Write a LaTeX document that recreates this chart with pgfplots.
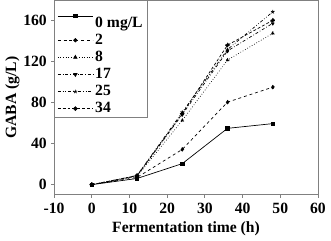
\documentclass[border=0pt]{standalone}
\usepackage{fontspec}
\setmainfont{Liberation Serif}
\usepackage{pgfplots}
\pgfplotsset{compat=1.18}
\begin{document}
\fontsize{16}{18}\selectfont\bfseries
\begin{tikzpicture}
\begin{axis}[
  scale only axis, width=270pt, height=199pt,
  xmin=-10, xmax=60, ymin=-10, ymax=180,
  xtick={-10,0,...,60}, ytick={0,40,...,160},
  tick align=outside, tick pos=left,
  major tick length=3pt,
  axis line style={gray, line width=0.8pt},
  every tick/.style={gray, line width=0.8pt},
  /pgf/number format/assume math mode=true,
  tick label style={font=\fontsize{16}{18}\selectfont\bfseries},
  yticklabel style={xshift=1pt},
  label style={font=\fontsize{16}{18}\selectfont\bfseries},
  xlabel={Fermentation time (h)}, ylabel={GABA (g/L)},
  xlabel style={yshift=3pt}, ylabel style={yshift=-7pt},
  legend style={at={(0,1)}, anchor=north west, draw=gray, line width=0.8pt, font=\fontsize{16}{18}\selectfont\bfseries, inner xsep=3pt, inner ysep=0pt, row sep=0.5pt},
  legend cell align=left,
  legend image code/.code={\draw[#1] (0pt,0pt) -- (36pt,0pt); \draw[#1, solid] plot coordinates {(18pt,0pt)};},
  every axis plot/.append style={black, line width=0.7pt, mark size=2pt},
]
\addplot[solid, mark=square*, mark size=1.7pt] coordinates {(0,0) (12,6) (24,20.5) (36,55) (48,59.6)};
\addlegendentry{\rule{0pt}{25pt}0 mg/L}
\addplot[dashed, mark=*, mark size=1.8pt] coordinates {(0,0) (12,7) (24,34.4) (36,80.6) (48,95.2)};
\addlegendentry{2}
\addplot[dotted, mark=triangle*] coordinates {(0,0) (12,8) (24,62.7) (36,121.7) (48,147.8)};
\addlegendentry{8}
\addplot[dash dot, mark=triangle*, mark options={rotate=180}] coordinates {(0,0) (12,8.5) (24,68.5) (36,130.6) (48,157.6)};
\addlegendentry{17}
\addplot[dash dot dot, mark=star] coordinates {(0,0) (12,9) (24,70.7) (36,132) (48,168.8)};
\addlegendentry{25}
\addplot[densely dashed, mark=*, mark size=2pt] coordinates {(0,0) (12,8.8) (24,69.4) (36,136.3) (48,160.5)};
\addlegendentry{34}
\end{axis}
\end{tikzpicture}
\end{document}
